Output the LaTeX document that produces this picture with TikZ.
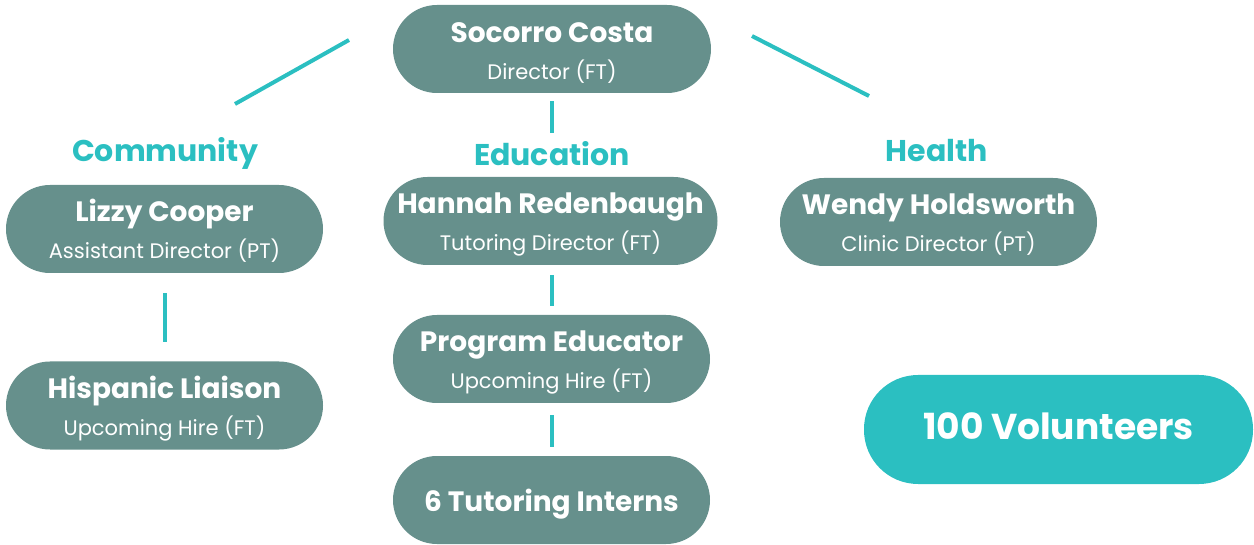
\documentclass[tikz,border=0pt]{standalone}
\usepackage{fontspec}
\setmainfont{Poppins}
\usetikzlibrary{positioning}
\definecolor{boxgrey}{HTML}{66908C}
\definecolor{tealc}{HTML}{2BBFC1}

\begin{document}
\begin{tikzpicture}[x=1pt, y=-1pt,
    pill/.style={fill=boxgrey, rounded corners=44pt, minimum height=88pt, minimum width=317pt, inner sep=0pt},
    pname/.style={text=white, font=\bfseries\fontsize{28}{28}\selectfont, anchor=base},
    prole/.style={text=white, font=\fontsize{21}{21}\selectfont, anchor=base},
    branch/.style={text=tealc, font=\bfseries\fontsize{30}{30}\selectfont, anchor=base},
    link/.style={draw=tealc, line width=4pt}]
        \useasboundingbox (0,0) rectangle (1254,545);
        % boxes
        \node[pill, minimum width=318pt] (soc) at (552,49) {};
        \node[pill] (lizzy) at (164.5,229) {};
        \node[pill, minimum width=334pt] (hannah) at (550.5,221) {};
        \node[pill] (wendy) at (938.5,222) {};
        \node[pill] (hisp) at (164.5,405.5) {};
        \node[pill] (prog) at (551.5,359) {};
        \node[pill] (interns) at (551.5,500) {};
        \node[pill, fill=tealc, minimum width=389pt, minimum height=109pt, rounded corners=54pt] (vol) at (1058.5,429.5) {};
        % texts
        \node[pname] (socn) at ([yshift=6pt]soc.center) {Socorro Costa};
        \node[prole] (socr) at ([yshift=-31pt]soc.center) {Director (FT)};
        \node[pname] (lizzyn) at ([yshift=7pt]lizzy.center) {Lizzy Cooper};
        \node[prole] (lizzyr) at ([yshift=-30pt]lizzy.center) {Assistant Director (PT)};
        \node[pname] (hannahn) at ([yshift=7pt]hannah.center) {Hannah Redenbaugh};
        \node[prole] (hannahr) at ([yshift=-30pt]hannah.center) {Tutoring Director (FT)};
        \node[pname] (wendyn) at ([yshift=7pt]wendy.center) {Wendy Holdsworth};
        \node[prole] (wendyr) at ([yshift=-30pt]wendy.center) {Clinic Director (PT)};
        \node[pname] (hispn) at ([yshift=7pt]hisp.center) {Hispanic Liaison};
        \node[prole] (hispr) at ([yshift=-30pt]hisp.center) {Upcoming Hire (FT)};
        \node[pname] (progn) at ([yshift=7pt]prog.center) {Program Educator};
        \node[prole] (progr) at ([yshift=-30pt]prog.center) {Upcoming Hire (FT)};
        \node[pname] (internsn) at ([yshift=-11pt]interns.center) {6 Tutoring Interns};
        \node[pname, font=\bfseries\fontsize{36}{36}\selectfont] (voln) at ([yshift=-10pt]vol.center) {100 Volunteers};
        % branch titles
        \node[branch] (comm) at (165,162) {Community};
        \node[branch] (edu) at (552,166) {Education};
        \node[branch] (health) at (937,162) {Health};
        % connectors
        \coordinate (lt) at (349,40);
        \coordinate (lb) at (235,104);
        \coordinate (rt) at (752,36);
        \coordinate (rb) at (869,96);
        \coordinate (et) at (552,133);
        \draw[link] (lt) -- (lb);
        \draw[link] (rt) -- (rb);
        \draw[link, shorten <=8pt] (soc.south) -- (et);
        \foreach \from/\to/\s/\e in
        {lizzy/hisp/20/19, hannah/prog/10/9, prog/interns/12/9}
        \draw[link, shorten <=\s pt, shorten >=\e pt] (\from.south -| \to.north) -- (\to.north);
\end{tikzpicture}
\end{document}
